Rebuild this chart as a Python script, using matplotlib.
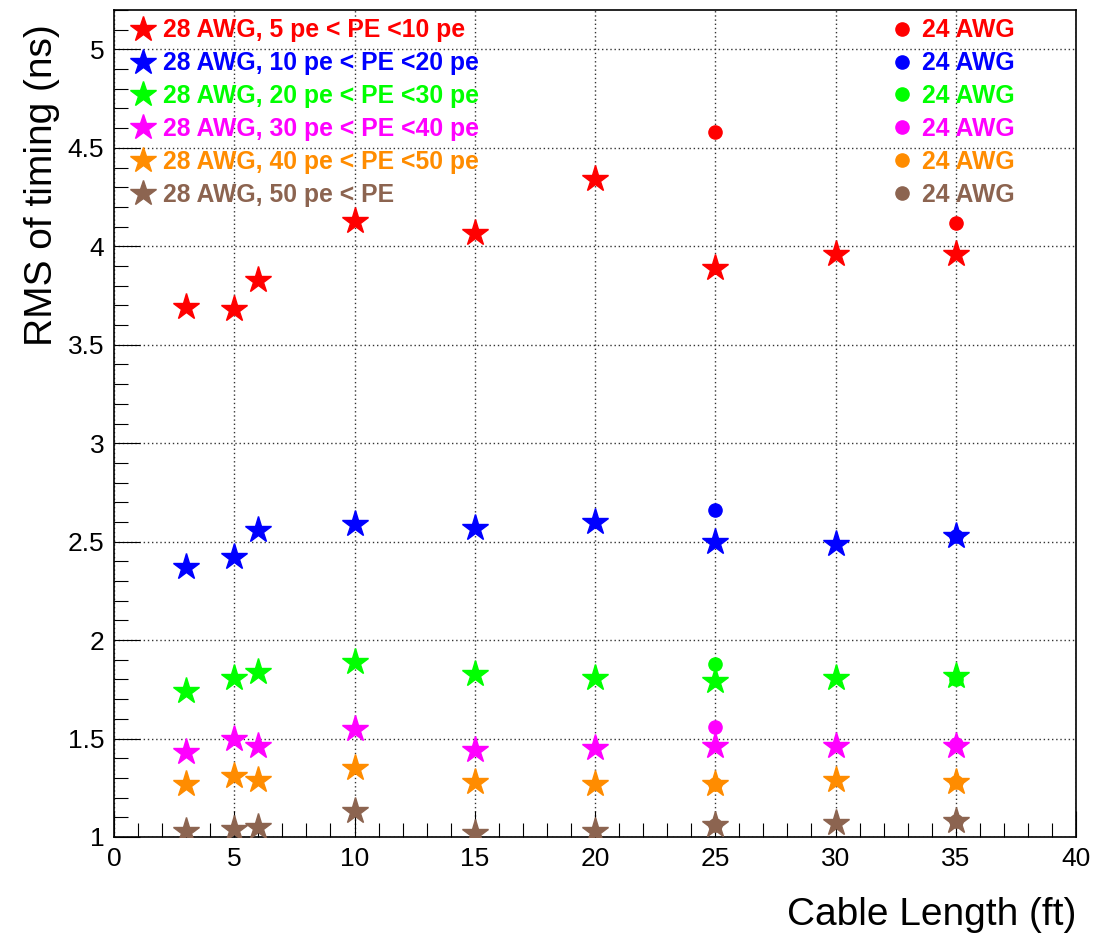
import matplotlib
matplotlib.use("Agg")
import matplotlib.pyplot as plt
from matplotlib.lines import Line2D
from matplotlib.ticker import MultipleLocator

plt.rcParams['font.family'] = ['Liberation Sans', 'DejaVu Sans']

# cable lengths (ft)
length = [3, 5, 6, 10, 15, 20, 25, 30, 35]
length_24 = [25, 35]

# 28 AWG, RMS of timing (ns) per PE range
rms_5_10 = [3.69, 3.68, 3.83, 4.13, 4.07, 4.34, 3.89, 3.96, 3.96]
rms_10_20 = [2.37, 2.42, 2.56, 2.59, 2.57, 2.60, 2.50, 2.49, 2.53]
rms_20_30 = [1.74, 1.81, 1.84, 1.89, 1.83, 1.81, 1.79, 1.81, 1.82]
rms_30_40 = [1.43, 1.50, 1.46, 1.55, 1.44, 1.45, 1.46, 1.46, 1.46]
rms_40_50 = [1.27, 1.31, 1.29, 1.35, 1.28, 1.27, 1.27, 1.29, 1.28]
rms_50_up = [1.03, 1.04, 1.05, 1.13, 1.02, 1.03, 1.06, 1.07, 1.08]

# 24 AWG
rms24_5_10 = [4.58, 4.12]
rms24_10_20 = [2.66, 2.53]
rms24_20_30 = [1.88, 1.80]
rms24_30_40 = [1.56, 1.47]
rms24_40_50 = [1.27, 1.28]
rms24_50_up = [1.06, 1.08]

labels_28 = ['28 AWG, 5 pe < PE <10 pe', '28 AWG, 10 pe < PE <20 pe',
             '28 AWG, 20 pe < PE <30 pe', '28 AWG, 30 pe < PE <40 pe',
             '28 AWG, 40 pe < PE <50 pe', '28 AWG, 50 pe < PE']
labels_24 = ['24 AWG'] * 6
colors = ['#ff0000', '#0000ff', '#00ff00', '#ff00ff', '#ff8c00', '#8c6450']

series_28 = [rms_5_10, rms_10_20, rms_20_30, rms_30_40, rms_40_50, rms_50_up]
series_24 = [rms24_5_10, rms24_10_20, rms24_20_30, rms24_30_40, rms24_40_50, rms24_50_up]

fig = plt.figure(figsize=(10.95, 9.34), dpi=100)
ax = fig.add_axes([114/1095, 97/934, 962/1095, 827/934])

for ys, c in zip(series_28, colors):
    ax.plot(length, ys, ls='none', marker='*', ms=20, color=c, mec=c, zorder=3)
for ys, c in zip(series_24, colors):
    ax.plot(length_24, ys, ls='none', marker='o', ms=9.5, color=c, mec=c, zorder=4)

ax.set_xlim(0, 40)
ax.set_ylim(1, 5.2)
ax.xaxis.set_major_locator(MultipleLocator(5))
ax.xaxis.set_minor_locator(MultipleLocator(1))
ax.yaxis.set_major_locator(MultipleLocator(0.5))
ax.yaxis.set_minor_locator(MultipleLocator(0.1))
ax.xaxis.set_major_formatter(matplotlib.ticker.FormatStrFormatter('%g'))
ax.yaxis.set_major_formatter(matplotlib.ticker.FormatStrFormatter('%g'))

ax.tick_params(which='both', direction='in', top=False, right=False, width=0.8, color='black')
ax.tick_params(which='major', length=19, labelsize=19, pad=7)
ax.tick_params(which='minor', length=10)
for s in ax.spines.values():
    s.set_linewidth(1.2)

ax.grid(True, which='major', color='#333333', ls=(0, (1, 2)), lw=1)
ax.set_axisbelow(True)

ax.set_xlabel('Cable Length (ft)', fontsize=28, loc='right')
ax.set_ylabel('RMS of timing (ns)', fontsize=28, loc='top')
ax.xaxis.set_label_coords(1.0, -0.072)
ax.yaxis.set_label_coords(-0.056, 0.983)

h28 = [Line2D([], [], ls='none', marker='*', ms=19, color=c) for c in colors]
h24 = [Line2D([], [], ls='none', marker='o', ms=9.5, color=c) for c in colors]
common = dict(frameon=False, handlelength=0.8, handletextpad=0.4, borderpad=0,
              borderaxespad=0, labelspacing=0.36,
              prop={'weight': 'bold', 'size': 17.8})
leg1 = ax.legend(h28, labels_28, loc='upper left', bbox_to_anchor=(0.02, 0.99),
                 labelcolor=colors, **common)
ax.add_artist(leg1)
ax.legend(h24, labels_24, loc='upper left', bbox_to_anchor=(0.809, 0.99),
          labelcolor=colors, **common)

fig.savefig('out.png', dpi=100)
